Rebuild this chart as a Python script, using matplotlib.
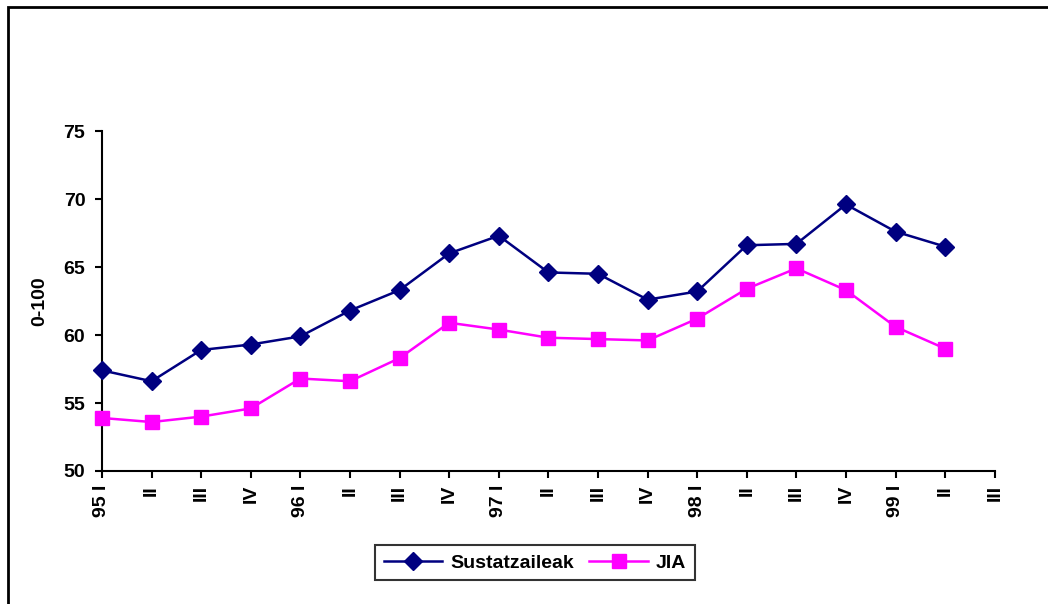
import numpy as np
import matplotlib.pyplot as plt
from matplotlib.patches import Rectangle

plt.rcParams['font.family'] = ['Liberation Sans', 'DejaVu Sans']
plt.rcParams['font.weight'] = 'bold'

quarters = ["95 I", "II", "III", "IV", "96 I", "II", "III", "IV",
            "97 I", "II", "III", "IV", "98 I", "II", "III", "IV",
            "99 I", "II", "III"]
sustatzaileak = [57.4, 56.6, 58.9, 59.3, 59.9, 61.8, 63.3, 66.0, 67.3,
                 64.6, 64.5, 62.6, 63.2, 66.6, 66.7, 69.6, 67.6, 66.5]
jia = [53.9, 53.6, 54.0, 54.6, 56.8, 56.6, 58.3, 60.9, 60.4,
       59.8, 59.7, 59.6, 61.2, 63.4, 64.9, 63.3, 60.6, 59.0]

FS = 14

fig = plt.figure(figsize=(10.48, 6.04), dpi=100)
ax = fig.add_axes([0.0973, 0.2202, 0.8519, 0.5629])

x = np.arange(len(sustatzaileak))
ax.plot(x, sustatzaileak, color='#000080', lw=1.8, marker='D', ms=9,
        label='Sustatzaileak', clip_on=False, zorder=3)
ax.plot(x, jia, color='#FF00FF', lw=1.8, marker='s', ms=10.5,
        label='JIA', clip_on=False, zorder=3)

ax.set_xlim(0, len(quarters) - 1)
ax.set_ylim(50, 75)
ax.set_yticks([50, 55, 60, 65, 70, 75])
ax.set_xticks(np.arange(len(quarters)))
ax.set_xticklabels(quarters, rotation=90, va='top', ha='center')
ax.tick_params(axis='both', direction='out', length=5, width=1.5,
               labelsize=FS)
ax.tick_params(axis='x', pad=5)
ax.tick_params(axis='y', pad=7)
for lbl in ax.get_xticklabels() + ax.get_yticklabels():
    lbl.set_fontweight('bold')

for side in ['top', 'right']:
    ax.spines[side].set_visible(False)
for side in ['left', 'bottom']:
    ax.spines[side].set_linewidth(1.5)

ax.set_ylabel('0-100', fontsize=FS, fontweight='bold')
ax.yaxis.set_label_coords(-0.060, 0.5)

leg = fig.legend(loc='center', bbox_to_anchor=(0.5105, 0.068), ncol=2,
                 frameon=True, fancybox=False,
                 handlelength=3.0, columnspacing=0.8, handletextpad=0.4,
                 borderpad=0.45, prop={'weight': 'bold', 'size': FS})
leg.get_frame().set_edgecolor('black')
leg.get_frame().set_linewidth(1.5)

# outer frame around the chart area
fig.patches.append(Rectangle((8 / 1048, -0.05), 1.1, (597 / 604) + 0.05,
                             transform=fig.transFigure, fill=False,
                             edgecolor='black', lw=2))

fig.savefig('out.png', dpi=100)
